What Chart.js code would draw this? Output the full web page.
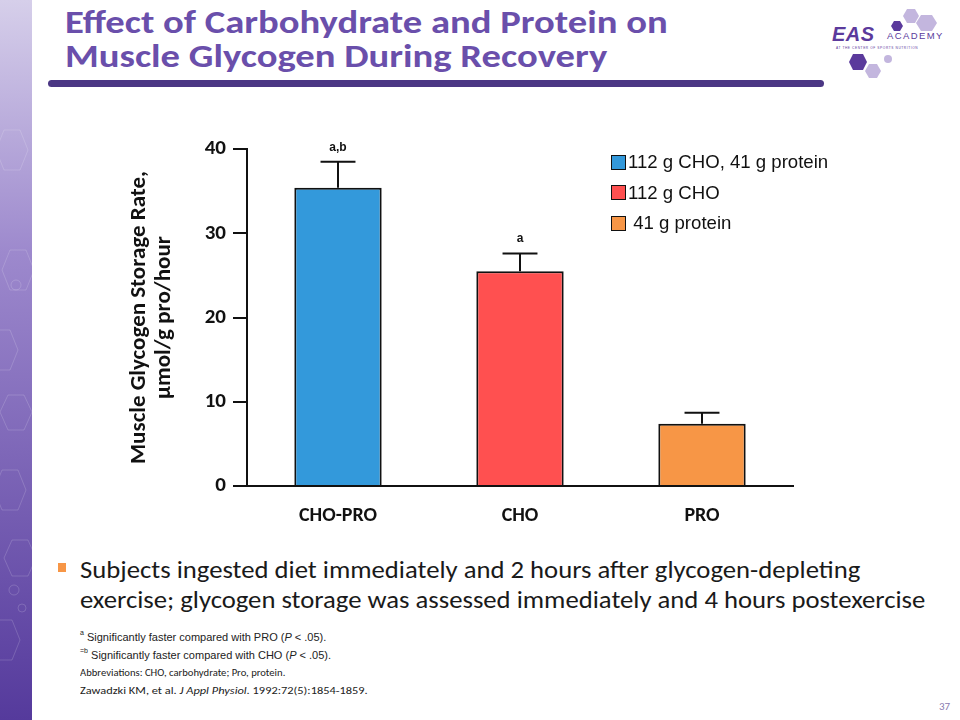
<!DOCTYPE html>
<html>
<head>
<meta charset="utf-8">
<script src="https://cdn.jsdelivr.net/npm/chart.js@4"></script>
<style>
  body { margin: 0; width: 960px; height: 720px; position: relative; overflow: hidden; background: #fff; font-family: Carlito, Lato, sans-serif; }
  .abs { position: absolute; }
  .fit { display: inline-block; transform-origin: 0 0; white-space: nowrap; }
  #title { left: 65px; top: 5px; color: #6a4fab; font-weight: bold; font-size: 33px; line-height: 34px; }
  #rule { left: 48px; top: 80px; width: 776px; height: 7px; border-radius: 4px; background: #4b3784; }
  #legend { left: 611px; top: 147px; font-family: "Liberation Sans", Arial, sans-serif; font-size: 18.6px; color: #111; }
  #legend div { display: flex; align-items: center; height: 30.5px; white-space: nowrap; }
  #legend span.box { width: 13px; height: 13px; border: 1.5px solid #111; margin-right: 2px; }
  #bullet { left: 80px; top: 555px; font-size: 24px; line-height: 30px; color: #1a1a1a; }
  #sq { left: 58px; top: 563px; width: 8px; height: 9px; background: #f79646; }
  #notes { left: 80px; top: 629px; font-size: 11px; color: #222; }
  #notes .ln { height: 17.7px; line-height: 17.7px; white-space: nowrap; }
  #notes .ar { font-family: "Liberation Sans", Arial, sans-serif; }
  #notes sup { font-size: 7px; line-height: 0; position: relative; top: -1px; }
  #pg { left: 939px; top: 700px; font-size: 11px; color: #8a7ab0; }
</style>
</head>
<body>

<svg class="abs" style="left:0;top:0" width="33" height="720">
  <defs>
    <linearGradient id="g" x1="0" y1="0" x2="0" y2="1">
      <stop offset="0" stop-color="#d6cfea"/>
      <stop offset="0.35" stop-color="#9d89cd"/>
      <stop offset="1" stop-color="#553a9c"/>
    </linearGradient>
  </defs>
  <rect width="32" height="720" fill="url(#g)"/>
  <g fill="none" stroke="#ffffff" stroke-opacity="0.16" stroke-width="1">
    <polygon points="4,130 20,130 28,150 20,170 4,170 -4,150"/>
    <polygon points="10,250 26,250 34,270 26,290 10,290 2,270"/>
    <polygon points="-6,330 10,330 18,350 10,370 -6,370 -14,350"/>
    <polygon points="8,395 24,395 32,412 24,430 8,430 0,412"/>
    <polygon points="2,470 18,470 26,490 18,510 2,510 -6,490"/>
    <polygon points="12,540 28,540 36,558 28,576 12,576 4,558"/>
    <polygon points="-4,620 12,620 20,640 12,660 -4,660 -12,640"/>
    <circle cx="16" cy="285" r="5"/>
    <circle cx="14" cy="590" r="5"/>
    <circle cx="22" cy="608" r="4"/>
  </g>
</svg>

<div id="title" class="abs"><span class="fit" id="titleText">Effect of Carbohydrate and Protein on<br>Muscle Glycogen During Recovery</span></div>
<div id="rule" class="abs"></div>

<svg class="abs" style="left:820px;top:0" width="140" height="85">
  <g fill="#c3b6de">
    <polygon points="87,9 95,9 99,16 95,23 87,23 83,16"/>
    <polygon points="101,15 112,15 117,23 112,31 101,31 96,23"/>
    <polygon points="49,64 57,64 61,71 57,78 49,78 45,71"/>
    <circle cx="68" cy="59" r="4"/>
  </g>
  <g fill="#5b3a9c">
    <polygon points="74,21 80,21 83,26 80,31 74,31 71,26"/>
    <polygon points="33,54 43,54 47,62 43,70 33,70 29,62"/>
    <text x="12" y="41" font-family="Liberation Sans, Arial" font-weight="bold" font-style="italic" font-size="20" letter-spacing="0.5">EAS</text>
  </g>
  <text x="67" y="39" font-family="Liberation Sans, Arial" font-size="9.5" letter-spacing="1.4" fill="#5b3a9c">ACADEMY</text>
  <text x="16" y="49" font-family="Liberation Sans, Arial" font-size="3.2" letter-spacing="0.6" fill="#5b3a9c">AT THE CENTER OF SPORTS NUTRITION</text>
</svg>

<canvas id="chart" class="abs" style="left:100px;top:120px" width="760" height="420"></canvas>

<div id="legend" class="abs"></div>

<div id="sq" class="abs"></div>
<div id="bullet" class="abs"><span class="fit" id="bulletText">Subjects ingested diet immediately and 2 hours after glycogen-depleting<br>exercise; glycogen storage was assessed immediately and 4 hours postexercise</span></div>

<div id="notes" class="abs">
  <div class="ln ar"><sup>a</sup> Significantly faster compared with PRO (<i>P</i> &lt; .05).</div>
  <div class="ln ar"><sup>=b</sup> Significantly faster compared with CHO (<i>P</i> &lt; .05).</div>
  <div class="ln"><span class="fit" id="abbr">Abbreviations: CHO, carbohydrate; Pro, protein.</span></div>
  <div class="ln"><span class="fit" id="ref">Zawadzki KM, et al. <i>J Appl Physiol.</i> 1992:72(5):1854-1859.</span></div>
</div>
<div id="pg" class="abs">37</div>

<script>
// values
const groups = ['CHO-PRO', 'CHO', 'PRO'];
const legendLabels = ['112 g CHO, 41 g protein', '112 g CHO', '\u00a041 g protein'];
const storageRate = [35.4, 25.5, 7.4];
const sem = [3.1, 2.1, 1.3];
const sigMarks = ['a,b', 'a', ''];
const barColors = ['#3399db', '#ff5050', '#f79646'];
const yTicks = [0, 10, 20, 30, 40];

// the slide text is a bit wider than the fonts we have, stretch it to fit
function stretch(id, targetWidth, lineText) {
  const el = document.getElementById(id);
  el.style.transform = 'none';
  let w = el.offsetWidth;
  if (lineText) {
    const probe = document.createElement('span');
    probe.style.cssText = 'position:absolute;visibility:hidden;white-space:nowrap;left:0;top:0';
    probe.textContent = lineText;
    el.appendChild(probe);
    w = probe.offsetWidth;
    el.removeChild(probe);
  }
  el.style.transform = 'scaleX(' + (targetWidth / w) + ')';
}
function fitAll() {
  stretch('titleText', 603, 'Effect of Carbohydrate and Protein on');
  stretch('bulletText', 845, 'exercise; glycogen storage was assessed immediately and 4 hours postexercise');
  stretch('abbr', 205);
  stretch('ref', 288);
}
fitAll();
document.fonts.ready.then(fitAll);

// html legend
const leg = document.getElementById('legend');
legendLabels.forEach((txt, i) => {
  const row = document.createElement('div');
  row.innerHTML = '<span class="box" style="background:' + barColors[i] + '"></span>' + txt;
  leg.appendChild(row);
});

const errorBars = {
  id: 'errorBars',
  afterDatasetsDraw(chart) {
    const ctx = chart.ctx;
    const y = chart.scales.y;
    const meta = chart.getDatasetMeta(0);
    ctx.save();
    ctx.strokeStyle = '#111';
    ctx.lineWidth = 2;
    ctx.fillStyle = '#111';
    ctx.font = 'bold 12px "Liberation Sans", Arial';
    ctx.textAlign = 'center';
    ctx.textBaseline = 'alphabetic';
    meta.data.forEach((bar, i) => {
      const top = y.getPixelForValue(storageRate[i] + sem[i]);
      const half = bar.width * 0.2;
      ctx.beginPath();
      ctx.moveTo(bar.x, bar.y);
      ctx.lineTo(bar.x, top);
      ctx.moveTo(bar.x - half, top);
      ctx.lineTo(bar.x + half, top);
      ctx.stroke();
      if (sigMarks[i]) ctx.fillText(sigMarks[i], bar.x, top - 11);
    });
    ctx.restore();
  }
};

const ctx = document.getElementById('chart').getContext('2d');
const myChart = new Chart(ctx, {
  type: 'bar',
  data: {
    labels: groups,
    datasets: [{
      data: storageRate,
      backgroundColor: barColors,
      borderColor: '#111',
      borderWidth: 2,
      categoryPercentage: 0.48,
      barPercentage: 1
    }]
  },
  options: {
    responsive: false,
    animation: false,
    devicePixelRatio: 1,
    layout: { padding: { top: 29, right: 67, left: 0, bottom: 0 } },
    plugins: { legend: { display: false }, tooltip: { enabled: false } },
    scales: {
      x: {
        afterFit: s => { s.height = 54; },
        grid: { display: false, drawTicks: false },
        border: { display: true, color: '#111', width: 2 },
        ticks: { color: '#111', padding: 18, font: { family: 'Carlito, Lato, sans-serif', size: 20, weight: 'bold' } }
      },
      y: {
        min: 0,
        max: 40,
        afterFit: s => { s.width = 147; },
        afterBuildTicks: s => { s.ticks = yTicks.map(v => ({ value: v })); },
        grid: { drawOnChartArea: false, tickLength: 14, color: '#111', lineWidth: 2 },
        border: { display: true, color: '#111', width: 2 },
        ticks: { color: '#111', padding: 7, font: { family: 'Carlito, Lato, sans-serif', size: 21, weight: 'bold' } },
        title: {
          display: true,
          text: ['Muscle Glycogen Storage Rate,', '\u00b5mol/g pro/hour'],
          color: '#111',
          padding: { top: 27, bottom: 0 },
          font: { family: 'Carlito, Lato, sans-serif', size: 23, weight: 'bold', lineHeight: 1.09 }
        }
      }
    }
  },
  plugins: [errorBars]
});
</script>
</body>
</html>
